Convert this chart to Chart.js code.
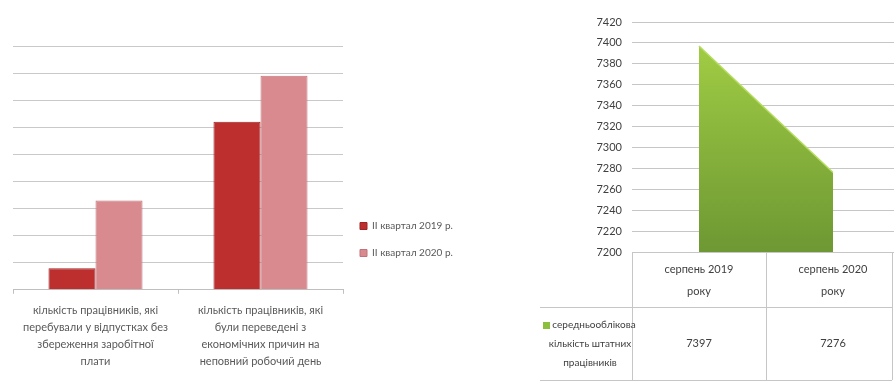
<!DOCTYPE html>
<html><head><meta charset="utf-8">
<script src="https://cdn.jsdelivr.net/npm/chart.js@4/dist/chart.umd.min.js"></script>
<style>
html,body{margin:0;padding:0;background:#fff;width:894px;height:382px;overflow:hidden;position:relative;}
#w1{position:absolute;left:0;top:0;width:512px;height:382px;}
#w2{position:absolute;left:530px;top:0;width:370px;height:382px;}
</style></head><body>
<div id="w1"><canvas id="c1"></canvas></div>
<div id="w2"><canvas id="c2"></canvas></div>
<script>
// ---- data: left chart ----
const barCategories = [
  ["кількість працівників, які", "перебували у відпустках без", "збереження заробітної", "плати"],
  ["кількість працівників, які", "були переведені з", "економічних причин на", "неповний робочий день"]
];
const seriesNames = ["ІІ квартал 2019 р.", "ІІ квартал 2020 р."];
const values2019 = [0.8, 6.2];
const values2020 = [3.3, 7.9];
const barAxisRange = [0, 9, 1];

// ---- data: right chart ----
const monthCategories = [["серпень 2019", "року"], ["серпень 2020", "року"]];
const staffSeriesName = ["середньооблікова", "кількість штатних", "працівників"];
const staffValues = [7397, 7276];
const staffAxisRange = [7200, 7420, 20];

const FONT = "Lato, 'Liberation Sans', sans-serif";
Chart.defaults.font.family = FONT;
Chart.defaults.animation = false;

new Chart(document.getElementById('c1'), {
  type: 'bar',
  data: {
    labels: barCategories,
    datasets: [
      { label: seriesNames[0], data: values2019, backgroundColor: '#bd2f2f', borderColor: '#9f2424', borderWidth: 1 },
      { label: seriesNames[1], data: values2020, backgroundColor: '#d98a8e', borderColor: '#c07378', borderWidth: 1 }
    ]
  },
  options: {
    responsive: true, maintainAspectRatio: false,
    layout: { padding: { left: 13, top: 46, right: 59, bottom: 4 } },
    datasets: { bar: { categoryPercentage: 0.57, barPercentage: 1 } },
    plugins: {
      tooltip: { enabled: false },
      legend: {
        position: 'right', align: 'center',
        title: { display: true, text: '', padding: { top: 43, bottom: 0 }, font: { size: 10 } },
        labels: { boxWidth: 7, boxHeight: 7, padding: 17, color: '#595959', font: { size: 10, family: FONT } }
      }
    },
    scales: {
      x: {
        grid: { display: true, drawOnChartArea: false, drawTicks: true, tickLength: 4, color: '#bfbfbf', offset: true },
        border: { color: '#bfbfbf' },
        ticks: { color: '#595959', font: { size: 11, family: FONT, lineHeight: 1.55 }, maxRotation: 0, autoSkip: false, padding: 8 }
      },
      y: {
        min: barAxisRange[0], max: barAxisRange[1],
        ticks: { display: false, stepSize: barAxisRange[2] },
        grid: { color: '#c9c9c9', drawTicks: false },
        border: { display: false }
      }
    }
  }
});

const tablePlugin = {
  id: 'dataTable',
  afterDraw(chart) {
    const ctx = chart.ctx, xs = chart.scales.x, ys = chart.scales.y;
    const top = ys.bottom, rowY = top + 55, bot = top + 128;
    const tableLeft = 10, outerRight = 362;
    const mid = (xs.getPixelForValue(0) + xs.getPixelForValue(1)) / 2;
    ctx.save();
    ctx.strokeStyle = '#c6c6c6'; ctx.lineWidth = 1;
    ctx.beginPath();
    [xs.left, mid, outerRight].forEach(x => { const px = Math.round(x) + 0.5; ctx.moveTo(px, top); ctx.lineTo(px, bot); });
    ctx.moveTo(tableLeft, rowY + 0.5); ctx.lineTo(outerRight, rowY + 0.5);
    ctx.moveTo(tableLeft, bot + 0.5); ctx.lineTo(outerRight, bot + 0.5);
    ctx.stroke();
    ctx.fillStyle = '#404040';
    ctx.font = "11px " + FONT;
    ctx.textAlign = 'center'; ctx.textBaseline = 'middle';
    const rowMid = (rowY + bot) / 2;
    staffValues.forEach((v, i) => ctx.fillText(String(v), xs.getPixelForValue(i), rowMid));
    ctx.font = "10px " + FONT;
    const cx = 60;
    staffSeriesName.forEach((t, i) => ctx.fillText(t, cx + (i === 0 ? 4 : 0), rowMid - 19 + i * 19));
    const w0 = ctx.measureText(staffSeriesName[0]).width;
    ctx.fillStyle = '#8cbf3c';
    ctx.fillRect(Math.round(cx + 4 - w0 / 2 - 9), Math.round(rowMid - 19 - 3), 7, 7);
    ctx.restore();
  }
};

new Chart(document.getElementById('c2'), {
  type: 'line',
  data: {
    labels: monthCategories,
    datasets: [{
      label: staffSeriesName.join(' '),
      data: staffValues,
      fill: 'start',
      backgroundColor: (c) => {
        const ca = c.chart.chartArea;
        if (!ca) return '#8cbf3c';
        const g = c.chart.ctx.createLinearGradient(0, ca.top, 0, ca.bottom);
        g.addColorStop(0, '#a6d246'); g.addColorStop(1, '#6d9833');
        return g;
      },
      borderColor: '#b6dd60', borderWidth: 1.5, pointRadius: 0, tension: 0
    }]
  },
  options: {
    responsive: true, maintainAspectRatio: false,
    layout: { padding: { left: 0, top: 22, right: 0, bottom: 2 } },
    plugins: { legend: { display: false }, tooltip: { enabled: false } },
    scales: {
      x: {
        offset: true,
        grid: { display: false },
        border: { color: '#c6c6c6' },
        ticks: { color: '#404040', font: { size: 11, family: FONT, lineHeight: 2.0 }, maxRotation: 0, autoSkip: false, padding: -2 },
        afterFit: (s) => { s.height = 128; }
      },
      y: {
        min: staffAxisRange[0], max: staffAxisRange[1],
        ticks: { stepSize: staffAxisRange[2], color: '#404040', font: { size: 11, family: FONT }, padding: 10, callback: (v) => String(v) },
        grid: { color: '#c6c6c6', drawTicks: false },
        border: { display: false },
        afterFit: (s) => { s.width = 102; }
      }
    }
  },
  plugins: [tablePlugin]
});
</script>
</body></html>
